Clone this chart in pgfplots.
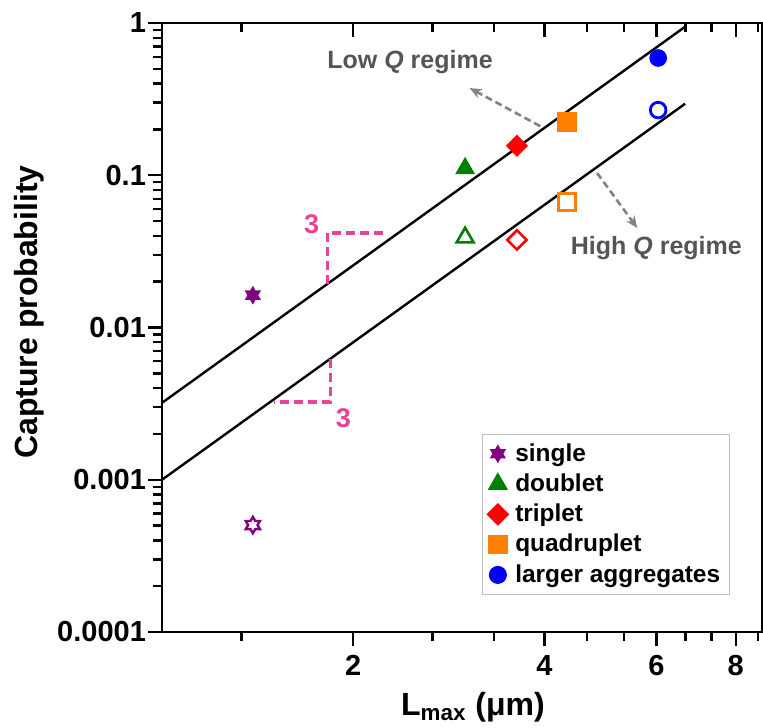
\documentclass[border=0pt]{standalone}
\usepackage{pgfplots}
\pgfplotsset{compat=1.18}
\usepackage{fontspec}
\setmainfont{Liberation Sans}
\usetikzlibrary{arrows.meta}

\definecolor{cpurple}{RGB}{128,0,128}
\definecolor{cgreen}{RGB}{0,128,0}
\definecolor{cred}{RGB}{255,0,0}
\definecolor{corange}{RGB}{255,128,0}
\definecolor{cblue}{RGB}{0,0,255}
\definecolor{cpink}{RGB}{234,66,148}
\definecolor{cgray}{RGB}{85,85,85}
\definecolor{carrow}{RGB}{130,130,130}

\pgfdeclareplotmark{hexstar}{%
  \pgfpathmoveto{\pgfqpointpolar{90}{\pgfplotmarksize}}%
  \pgfpathlineto{\pgfqpointpolar{60}{0.577\pgfplotmarksize}}%
  \pgfpathlineto{\pgfqpointpolar{30}{\pgfplotmarksize}}%
  \pgfpathlineto{\pgfqpointpolar{0}{0.577\pgfplotmarksize}}%
  \pgfpathlineto{\pgfqpointpolar{-30}{\pgfplotmarksize}}%
  \pgfpathlineto{\pgfqpointpolar{-60}{0.577\pgfplotmarksize}}%
  \pgfpathlineto{\pgfqpointpolar{-90}{\pgfplotmarksize}}%
  \pgfpathlineto{\pgfqpointpolar{-120}{0.577\pgfplotmarksize}}%
  \pgfpathlineto{\pgfqpointpolar{-150}{\pgfplotmarksize}}%
  \pgfpathlineto{\pgfqpointpolar{180}{0.577\pgfplotmarksize}}%
  \pgfpathlineto{\pgfqpointpolar{150}{\pgfplotmarksize}}%
  \pgfpathlineto{\pgfqpointpolar{120}{0.577\pgfplotmarksize}}%
  \pgfpathclose
  \pgfusepathqfillstroke
}

\begin{document}
\begin{tikzpicture}
\begin{axis}[
  name=ax,
  at={(0,0)}, anchor=south west,
  scale only axis, width=300pt, height=304.5pt,
  xmode=log, ymode=log,
  xmin=1, xmax=8.8, ymin=1e-4, ymax=1,
  xtick={2,4,6,8}, xticklabels={2,4,6,8},
  minor xtick={1.3333,2.6667,3.3333,4.6667,5.3333,6.6667,7.3333,8.6667},
  ytick={1e-4,1e-3,1e-2,1e-1,1}, yticklabels={0.0001,0.001,0.01,0.1,1},
  minor ytick={2e-4,3e-4,4e-4,5e-4,6e-4,7e-4,8e-4,9e-4,
               2e-3,3e-3,4e-3,5e-3,6e-3,7e-3,8e-3,9e-3,
               2e-2,3e-2,4e-2,5e-2,6e-2,7e-2,8e-2,9e-2,
               0.2,0.3,0.4,0.5,0.6,0.7,0.8,0.9},
  tick align=outside, xtick pos=bottom, ytick pos=left,
  major tick length=7pt, minor tick length=4.5pt,
  axis line style={line width=1.4pt},
  every tick/.style={line width=1.2pt, black},
  tick label style={font=\fontsize{14.5}{16}\selectfont\bfseries},
  yticklabel style={xshift=2.5pt},
  xticklabel style={yshift=-1pt},
  /pgf/number format/assume math mode=true,
  legend style={at={(rel axis cs:0.533,0.061)}, anchor=south west,
    draw=black!25, line width=0.6pt,
    font=\fontsize{12.2}{15}\selectfont\bfseries,
    inner xsep=2.5pt, inner ysep=2.5pt, row sep=0.8pt,
    /tikz/every even column/.append style={column sep=1pt},
    /tikz/every odd column/.append style={column sep=1.5pt}},
  legend cell align=left,
]
% fitted lines (slope 3)
\addplot[black, line width=1.2pt, forget plot] coordinates {(1,0.0032) (6.66,0.945)};
\addplot[black, line width=1.2pt, forget plot] coordinates {(1,0.001) (6.66,0.295)};

% slope triangles
\addplot[cpink, dash pattern=on 4.5pt off 2.5pt, line width=1.6pt, forget plot]
  coordinates {(1.82,0.0193) (1.82,0.0418) (2.23,0.0418)};
\addplot[cpink, dash pattern=on 4.5pt off 2.5pt, line width=1.6pt, forget plot]
  coordinates {(1.84,0.0062) (1.84,0.00324) (1.50,0.00324)};

% filled (low Q)
\addplot[only marks, mark=hexstar, mark size=4.1pt, mark options={draw=cpurple, fill=cpurple, line width=0.6pt}]
  coordinates {(1.39,0.0163)};
\addlegendentry{single}
\addplot[only marks, mark=triangle*, mark size=5.3pt, mark options={draw=cgreen, fill=cgreen}]
  coordinates {(3.0,0.111)};
\addlegendentry{doublet}
\addplot[only marks, mark=square*, mark size=3.7pt, mark options={rotate=45, draw=cred, fill=cred}]
  coordinates {(3.62,0.156)};
\addlegendentry{triplet}
\addplot[only marks, mark=square*, mark size=4.6pt, mark options={draw=corange, fill=corange}]
  coordinates {(4.34,0.224)};
\addlegendentry{quadruplet}
\addplot[only marks, mark=*, mark size=4.2pt, mark options={draw=cblue, fill=cblue}]
  coordinates {(6.04,0.589)};
\addlegendentry{larger aggregates}

% open (high Q)
\addplot[only marks, forget plot, mark=hexstar, mark size=4.1pt, mark options={draw=cpurple, fill=white, line width=1.2pt}]
  coordinates {(1.39,0.000504)};
\addplot[only marks, forget plot, mark=triangle*, mark size=4.9pt, mark options={draw=cgreen, fill=white, line width=1.3pt}]
  coordinates {(3.0,0.039)};
\addplot[only marks, forget plot, mark=square*, mark size=3.4pt, mark options={rotate=45, draw=cred, fill=white, line width=1.3pt}]
  coordinates {(3.62,0.0376)};
\addplot[only marks, forget plot, mark=square*, mark size=4.2pt, mark options={draw=corange, fill=white, line width=1.4pt}]
  coordinates {(4.34,0.0667)};
\addplot[only marks, forget plot, mark=*, mark size=3.9pt, mark options={draw=cblue, fill=white, line width=1.4pt}]
  coordinates {(6.04,0.268)};

% annotations
\node[text=cgray, font=\fontsize{12.5}{15}\selectfont\bfseries] at (axis cs:2.457,0.554) {Low \textit{Q} regime};
\node[text=cgray, font=\fontsize{12.5}{15}\selectfont\bfseries] at (axis cs:6.0,0.0333) {High \textit{Q} regime};
\draw[carrow, dash pattern=on 3.5pt off 2pt, line width=1.3pt, -{Stealth[length=6pt,width=5pt]}]
  (axis cs:3.94,0.21) -- (axis cs:3.05,0.374);
\draw[carrow, dash pattern=on 3.5pt off 2pt, line width=1.3pt, -{Stealth[length=6pt,width=5pt]}]
  (axis cs:4.84,0.1035) -- (axis cs:5.60,0.045);
\node[text=cpink, font=\fontsize{13.5}{15}\selectfont\bfseries] at (axis cs:1.72,0.0475) {3};
\node[text=cpink, font=\fontsize{13.5}{15}\selectfont\bfseries] at (axis cs:1.93,0.00255) {3};
\end{axis}

% top axis with inward ticks
\begin{axis}[
  at={(0,0)}, anchor=south west,
  scale only axis, width=300pt, height=304.5pt,
  xmode=log, ymode=log,
  xmin=1, xmax=8.8, ymin=1e-4, ymax=1,
  axis x line*=top, axis y line=none,
  xtick={2,4,6,8}, xticklabels={},
  minor xtick={1.3333,2.6667,3.3333,4.6667,5.3333,6.6667,7.3333,8.6667},
  tick align=inside,
  major tick length=7pt, minor tick length=4.5pt,
  axis line style={line width=1.4pt},
  every tick/.style={line width=1.2pt, black},
]
\end{axis}

\node[rotate=90, font=\fontsize{16}{19}\selectfont\bfseries] at ([xshift=-66.5pt,yshift=7.75pt]ax.west) {Capture probability};
\node[anchor=base, font=\fontsize{16}{19}\selectfont\bfseries] at ([xshift=5.5pt,yshift=-41.5pt]ax.south) {L\textsubscript{max} (μm)};

\pgfresetboundingbox
\path ([xshift=-81pt,yshift=-47.5pt]ax.south west) rectangle ([xshift=0.5pt,yshift=11.5pt]ax.north east);
\end{tikzpicture}
\end{document}
